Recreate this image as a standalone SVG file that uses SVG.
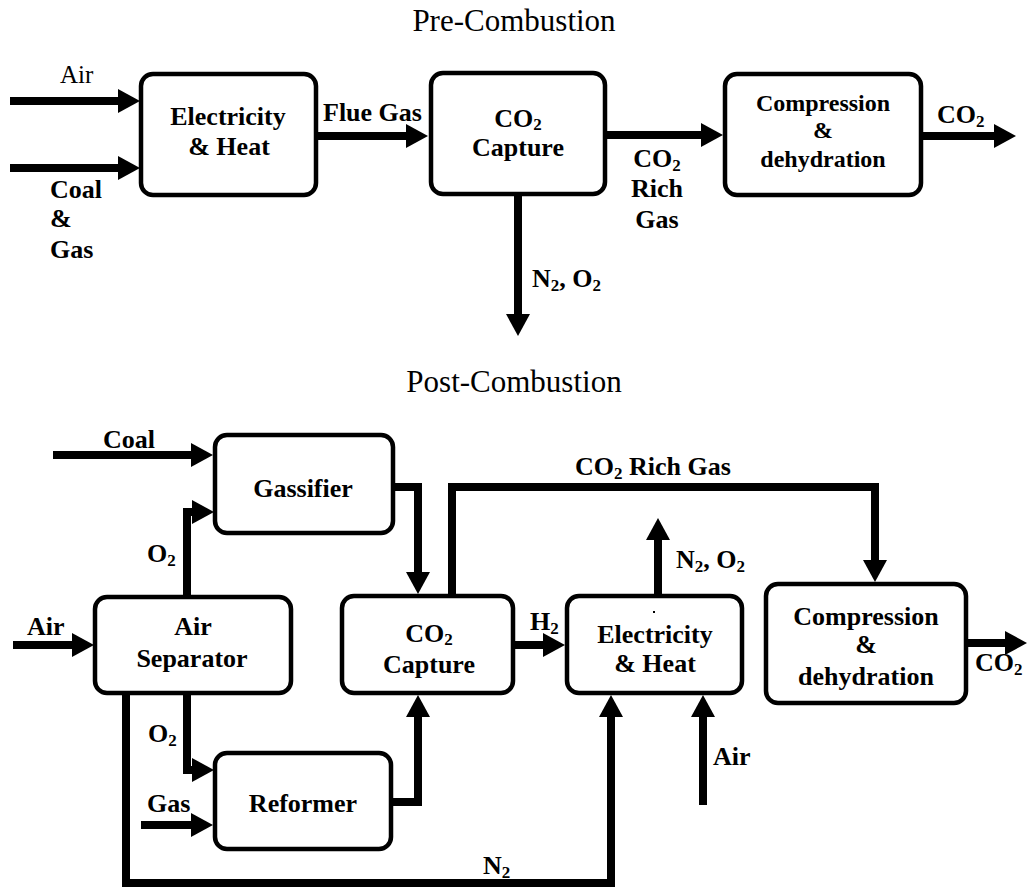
<svg xmlns="http://www.w3.org/2000/svg" width="1027" height="888" viewBox="0 0 1027 888">
<style>
.box{fill:#fff;stroke:#000;stroke-width:4.5}
.ln{fill:none;stroke:#000;stroke-width:8;stroke-linejoin:miter;stroke-linecap:butt}
text{font-family:"Liberation Serif","Times New Roman",serif;fill:#000}
.t{font-size:26px;font-weight:bold}
.c{text-anchor:middle}
.title{font-size:31px;text-anchor:middle}
.s{font-size:17px}
</style>
<defs>
<marker id="ah" markerUnits="userSpaceOnUse" markerWidth="22" markerHeight="24" viewBox="0 -12 22 24" refX="0" refY="0" orient="auto"><path d="M0,-12 L22,0 L0,12 Z" fill="#000"/></marker>
</defs>
<rect width="1027" height="888" fill="#fff"/>

<text class="title" x="514" y="31">Pre-Combustion</text>
<text class="title" x="514" y="392">Post-Combustion</text>

<g id="connectors">
  <path class="ln" d="M10,101 H118" marker-end="url(#ah)"/>
  <path class="ln" d="M10,168 H118" marker-end="url(#ah)"/>
  <path class="ln" d="M316,136 H406" marker-end="url(#ah)"/>
  <path class="ln" d="M605,135 H701" marker-end="url(#ah)"/>
  <path class="ln" d="M518,195 V314" marker-end="url(#ah)"/>
  <path class="ln" d="M921,136 H994" marker-end="url(#ah)"/>
  <path class="ln" d="M53,455 H191" marker-end="url(#ah)"/>
  <path class="ln" d="M187,595 V512 H192" marker-end="url(#ah)"/>
  <path class="ln" d="M13,645 H72" marker-end="url(#ah)"/>
  <path class="ln" d="M187,693 V770 H192" marker-end="url(#ah)"/>
  <path class="ln" d="M141,825 H191" marker-end="url(#ah)"/>
  <path class="ln" d="M391,802 H418 V717" marker-end="url(#ah)"/>
  <path class="ln" d="M126,693 V883 H611 V717" marker-end="url(#ah)"/>
  <path class="ln" d="M393,487 H418 V572" marker-end="url(#ah)"/>
  <path class="ln" d="M452,594 V487 H875 V560" marker-end="url(#ah)"/>
  <path class="ln" d="M513,645 H543" marker-end="url(#ah)"/>
  <path class="ln" d="M658,596 V540" marker-end="url(#ah)"/>
  <path class="ln" d="M703,805 V717" marker-end="url(#ah)"/>
  <path class="ln" d="M966,643 H1005" marker-end="url(#ah)"/>
</g>

<g id="labels">
  <text x="60" y="83" style="font-size:25px">Air</text>
  <text class="t" x="50" y="198">Coal</text>
  <text class="t" x="50" y="227">&amp;</text>
  <text class="t" x="50" y="258">Gas</text>
  <text class="t" x="323" y="121">Flue Gas</text>
  <text class="t c" x="657" y="167">CO<tspan class="s" dy="4">2</tspan></text>
  <text class="t c" x="657" y="197">Rich</text>
  <text class="t c" x="657" y="228">Gas</text>
  <text class="t" x="532" y="287">N<tspan class="s" dy="4">2</tspan><tspan dy="-4">, O</tspan><tspan class="s" dy="4">2</tspan></text>
  <text class="t" x="937" y="123">CO<tspan class="s" dy="4">2</tspan></text>

  <text class="t" x="103" y="448">Coal</text>
  <text class="t" x="147" y="562">O<tspan class="s" dy="4">2</tspan></text>
  <text class="t" x="27" y="635">Air</text>
  <text class="t" x="148" y="742">O<tspan class="s" dy="4">2</tspan></text>
  <text class="t" x="147" y="812">Gas</text>
  <text class="t" x="483" y="874">N<tspan class="s" dy="4">2</tspan></text>
  <text class="t" x="575" y="475">CO<tspan class="s" dy="4">2</tspan><tspan dy="-4"> Rich Gas</tspan></text>
  <text class="t" x="530" y="630">H<tspan class="s" dy="4">2</tspan></text>
  <text class="t" x="676" y="568">N<tspan class="s" dy="4">2</tspan><tspan dy="-4">, O</tspan><tspan class="s" dy="4">2</tspan></text>
  <text class="t" x="713" y="765">Air</text>
  <text class="t" x="975" y="671">CO<tspan class="s" dy="4">2</tspan></text>
</g>

<g id="pre-electricity">
  <rect class="box" x="141" y="74" width="175" height="121" rx="12"/>
  <text class="t c" x="228" y="125">Electricity</text>
  <text class="t c" x="229" y="155">&amp; Heat</text>
</g>
<g id="pre-capture">
  <rect class="box" x="431" y="73" width="174" height="121" rx="12"/>
  <text class="t c" x="518" y="127">CO<tspan class="s" dy="3">2</tspan></text>
  <text class="t c" x="518" y="156">Capture</text>
</g>
<g id="pre-compression">
  <rect class="box" x="725" y="74" width="196" height="121" rx="12"/>
  <text class="t c" x="823" y="111" style="font-size:24px">Compression</text>
  <text class="t c" x="823" y="138" style="font-size:24px">&amp;</text>
  <text class="t c" x="823" y="167" style="font-size:24px">dehydration</text>
</g>

<g id="gassifier">
  <rect class="box" x="215" y="435" width="178" height="98" rx="12"/>
  <text class="t c" x="303" y="497">Gassifier</text>
</g>
<g id="air-separator">
  <rect class="box" x="95" y="597" width="196" height="96" rx="12"/>
  <text class="t c" x="193" y="635">Air</text>
  <text class="t c" x="192" y="667">Separator</text>
</g>
<g id="reformer">
  <rect class="box" x="215" y="753" width="176" height="96" rx="12"/>
  <text class="t c" x="303" y="812">Reformer</text>
</g>
<g id="post-capture">
  <rect class="box" x="342" y="596" width="171" height="97" rx="12"/>
  <text class="t c" x="429" y="642">CO<tspan class="s" dy="3">2</tspan></text>
  <text class="t c" x="429" y="673">Capture</text>
</g>
<g id="post-electricity">
  <rect class="box" x="567" y="596" width="175" height="97" rx="12"/>
  <rect x="653" y="611" width="2" height="2" fill="#000"/>
  <text class="t c" x="655" y="643">Electricity</text>
  <text class="t c" x="655" y="672">&amp; Heat</text>
</g>
<g id="post-compression">
  <rect class="box" x="766" y="584" width="200" height="119" rx="12"/>
  <text class="t c" x="866" y="625">Compression</text>
  <text class="t c" x="866" y="653">&amp;</text>
  <text class="t c" x="866" y="685">dehydration</text>
</g>
</svg>
